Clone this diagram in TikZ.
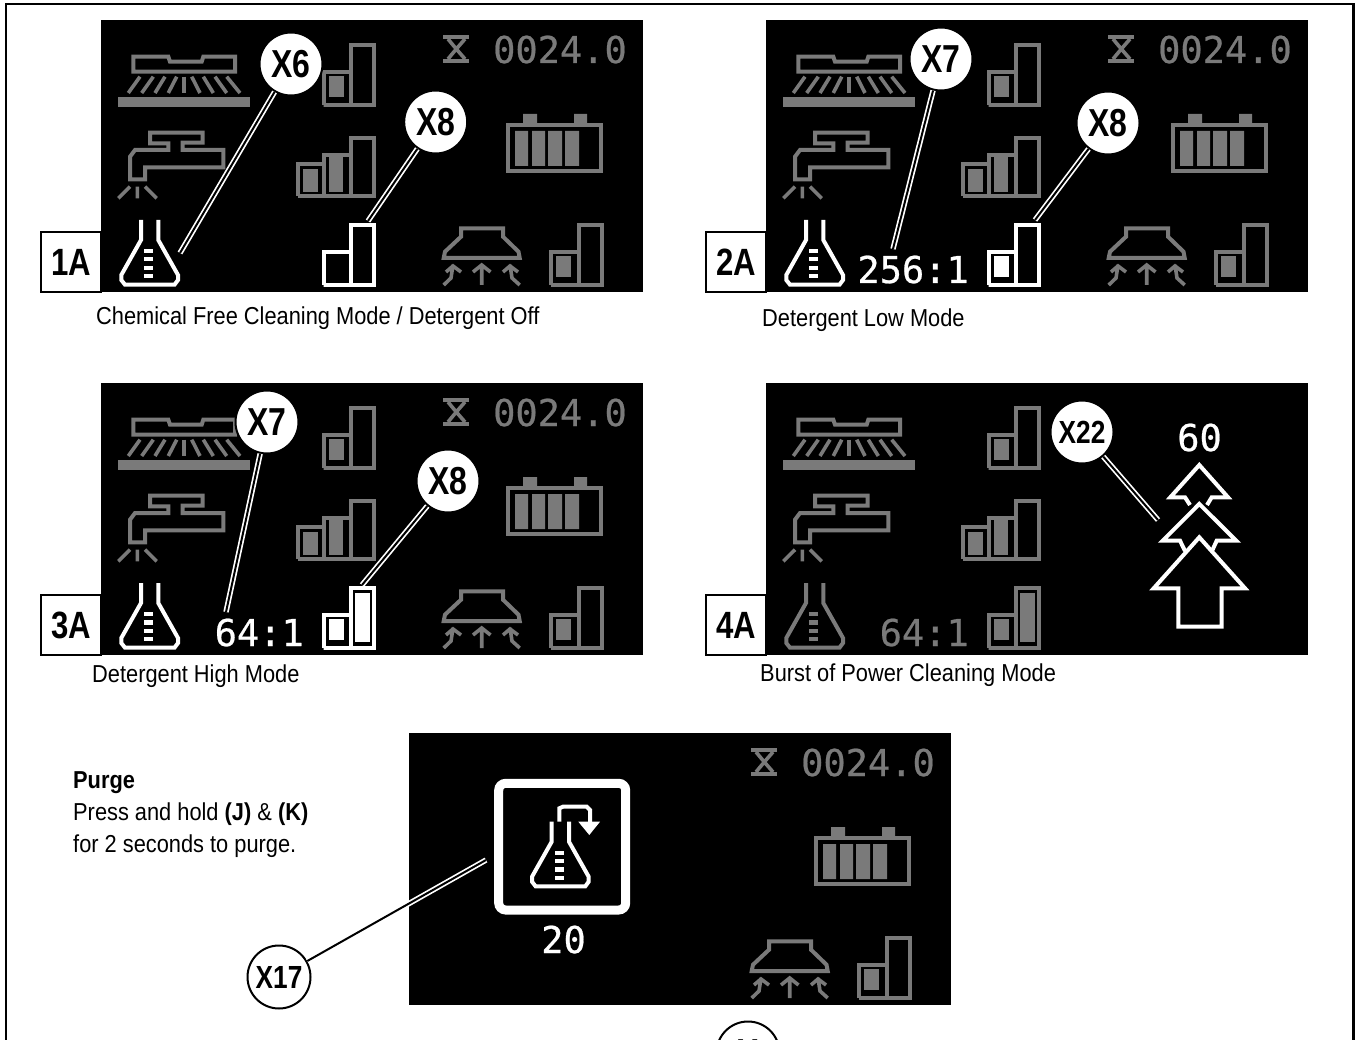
\documentclass[tikz,border=0pt]{standalone}
\usepackage{fontspec}
\setmainfont[FakeStretch=0.82]{Liberation Sans}
\newfontfamily\capfont[FakeStretch=0.89]{Liberation Sans}
\newfontfamily\lcdfont[FakeBold=0.6]{DejaVu Sans Mono}
\definecolor{lcdg}{HTML}{7A7A7A}
\tikzset{
  lcd/.style={draw=#1,line width=4,line join=miter,fill=none},
  lcdtxt/.style={font=\lcdfont\fontsize{37}{37}\selectfont,inner sep=0pt,anchor=base east,text=#1},
  callout/.style={circle,draw=black,line width=2,fill=white,inner sep=0pt,minimum size=63,font=\fontsize{39}{39}\selectfont\bfseries,text=black},
  callsmall/.style={callout,font=\fontsize{32}{32}\selectfont\bfseries},
  leader/.style={draw=black,line width=2,preaction={draw=white,line width=5.4}},
  tag/.style={rectangle,draw=black,line width=2,fill=white,inner sep=0pt,minimum size=60,font=\fontsize{38}{38}\selectfont\bfseries},
  caption/.style={inner sep=0pt,anchor=base west,font=\capfont\fontsize{24.5}{27}\selectfont,text=black}
}
\newcommand\lcdscreen[3]{\fill[black] (#1,#2) rectangle ++(542,272);\begin{scope}[shift={(#1,#2)}]#3\end{scope}}
\newcommand\twobars[3]{\begin{scope}[shift={(#1,#2)}]
  \draw[lcd=#3] (0,60) -- (0,27) -- (27.5,27) (27.5,60) -- (27.5,0) -- (50.5,0) -- (50.5,60) -- (0,60) -- cycle;
\end{scope}}
\newcommand\smallfill[3]{\fill[#3] (#1+5,#2+31) rectangle (#1+20,#2+52);}
\newcommand\tallfill[3]{\fill[#3] (#1+31.5,#2+5) rectangle (#1+46.5,#2+54);}
\newcommand\flask[3]{\begin{scope}[shift={(#1,#2)}]
  \draw[lcd=#3] (0,0) -- (0,20) -- (-19.7,55) -- (-19.7,60) -- (-16,64.7) -- (33.5,64.7) -- (37,60) -- (37,55) -- (17.3,20) -- (17.3,0);
  \foreach \yy in {31,39.4,47.7,56}{\fill[#3] (3,\yy-2.1) rectangle (12.3,\yy+2.1);}
\end{scope}}
\newcommand\brushtap{
  \draw[lcd=lcdg] (32.3,36.7) -- (67.3,36.7) -- (69,41.7) -- (100.7,41.7) -- (102.3,36.7) -- (134,36.7) -- (134,51.7) -- (32.3,51.7) -- cycle;
  \foreach \a/\b in {39/27.3,52.3/40.7,64/54,75.7/67.3,83/83,90.7/99,102.3/112.3,114/125.7,125.7/139}{\draw[lcdg,line width=3.6] (\a,56.7) -- (\b,73);}
  \fill[lcdg] (17,77) rectangle (149,87);
  \draw[lcd=lcdg] (67.3,130) -- (67.3,123.3) -- (49,123.3) -- (49,112.7) -- (101.7,112.7) -- (101.7,122.7) -- (81.7,122.7) -- (81.7,130) -- (122.3,130) -- (122.3,147.3) -- (44,147.3) -- (44,159.3) -- (29,159.3) -- (29,136.7) -- (34,130) -- cycle;
  \draw[lcdg,line width=3.6] (36.3,166.7) -- (36.3,178.3) (29,166.7) -- (17.3,178.3) (44,166.7) -- (55.7,178.3);
  \twobars{222.5}{25}{lcdg}\smallfill{222.5}{25}{lcdg}
  \begin{scope}[shift={(197,118)}]
    \draw[lcd=lcdg] (0,58) -- (0,26) -- (25.5,26) (25.5,58) -- (25.5,17) -- (53,17) (53,58) -- (53,0) -- (76,0) -- (76,58) -- (0,58) -- cycle;
    \fill[lcdg] (5,31) rectangle (20,54);
    \fill[lcdg] (31,18) rectangle (45,54);
  \end{scope}
}
\newcommand\hoodstatus[1]{
  \draw[lcd=lcdg] (342.3,17) -- (368.3,17) (342.3,41.3) -- (368.3,41.3);
  \draw[lcdg,line width=3.6] (347,19) -- (355.3,29) -- (364,19) (347,39) -- (355.3,29) -- (364,39);
  \node[lcdtxt=lcdg] (#1-time) at (526,43) {0024.0};
  \draw[lcd=lcdg] (407,105) rectangle (500,151);
  \fill[lcdg] (422,94) rectangle (436,103) (473,94) rectangle (486,103);
  \fill[lcdg] (414,111) rectangle (427,146) (431,111) rectangle (444,146) (447,111) rectangle (461,146) (464,111) rectangle (478,146);
  \draw[lcd=lcdg] (360,208.3) -- (402,208.3) -- (402,216.7) -- (417.5,231.7) -- (418.7,238) -- (342.7,238) -- (344,231.7) -- (360,216.7) -- cycle;
  \draw[lcdg,line width=3.6] (380.7,245) -- (380.7,265) (372,252) -- (380.7,245) -- (389.5,252);
  \draw[lcdg,line width=3.6] (342.7,265) -- (350,258) -- (352,245) (345,252) -- (352,246) -- (360,252);
  \draw[lcdg,line width=3.6] (418.7,265) -- (411,258) -- (409,245) (402,252) -- (409,246) -- (417,252);
  \twobars{450}{205}{lcdg}\smallfill{450}{205}{lcdg}
}
\begin{document}
\begin{tikzpicture}[x=1pt,y=-1pt]
\useasboundingbox (0,0) rectangle (1357,1040);
\clip (0,0) rectangle (1357,1040);
\fill[white] (0,0) rectangle (1357,1040);
\draw[black,line width=2.5] (6,1041) -- (6,4) -- (1353.7,4) -- (1353.7,1041);

% Panel 1A
\lcdscreen{101}{20}{\brushtap\hoodstatus{p1}
  \flask{40}{200}{white}\twobars{222.5}{205}{white}}
% Panel 2A
\lcdscreen{766}{20}{\brushtap\hoodstatus{p2}
  \flask{40}{200}{white}
  \node[lcdtxt=white] (p2-ratio) at (203,263) {256:1};
  \twobars{222.5}{205}{white}\smallfill{222.5}{205}{white}}
% Panel 3A
\lcdscreen{101}{383}{\brushtap\hoodstatus{p3}
  \flask{40}{200}{white}
  \node[lcdtxt=white] (p3-ratio) at (203,263) {64:1};
  \twobars{222.5}{205}{white}\smallfill{222.5}{205}{white}\tallfill{222.5}{205}{white}}
% Panel 4A
\lcdscreen{766}{383}{\brushtap
  \flask{40}{200}{lcdg}
  \node[lcdtxt=lcdg] (p4-ratio) at (203,263) {64:1};
  \twobars{222.5}{205}{lcdg}\smallfill{222.5}{205}{lcdg}\tallfill{222.5}{205}{lcdg}
  \node[lcdtxt=white] (p4-timer) at (456,68) {60};
  \draw[lcd=white] (433.3,154.3) -- (387.7,205.3) -- (412.3,205.3) -- (412.3,243.7) -- (455.7,243.7) -- (455.7,205.3) -- (479,205.3) -- cycle;
  \draw[lcd=white] (419,168) -- (414,157.7) -- (396.7,157.7) -- (433.3,121) -- (470.3,157.7) -- (450.7,157.7) -- (446,168);
  \draw[lcd=white] (424,122) -- (419,114.3) -- (404.3,114.3) -- (433.3,82) -- (462,114.3) -- (445.7,114.3) -- (441,122);
}
% Panel purge
\lcdscreen{409}{733}{\hoodstatus{p5}
  \draw[white,line width=9,rounded corners=7] (89.7,50.3) rectangle (216.7,177);
  \flask{142.7}{88.7}{white}
  \draw[lcd=white] (150.3,88.7) -- (150.3,75.3) -- (154,73.7) -- (177.7,73.7) -- (181,77) -- (181,90);
  \fill[white] (169.3,88.7) -- (191,88.7) -- (180.3,102) -- cycle;
  \node[lcdtxt=white] (p5-timer) at (177,220) {20};
}

% Tags
\node[tag] (t1) at (71,262) {1A};
\node[tag] (t2) at (736,262) {2A};
\node[tag] (t3) at (71,625) {3A};
\node[tag] (t4) at (736,625) {4A};

% Captions
\node[caption] (cap1) at (96,325) {Chemical Free Cleaning Mode / Detergent Off};
\node[caption] (cap2) at (762,327) {Detergent Low Mode};
\node[caption] (cap3) at (92,682) {Detergent High Mode};
\node[caption] (cap4) at (760,681) {Burst of Power Cleaning Mode};
\node[caption,font=\capfont\fontsize{24.5}{27}\selectfont\bfseries] (pu1) at (73,788) {Purge};
\node[caption] (pu2) at (73,820.5) {Press and hold \textbf{(J)} \& \textbf{(K)}};
\node[caption] (pu3) at (73,852) {for 2 seconds to purge.};

% Callouts and leaders
\node[callout] (c1) at (291,64) {X6};
\coordinate (e1) at (180,253);
\draw[leader] (c1) -- (e1);
\node[callout] (c2) at (435.7,122) {X8};
\coordinate (e2) at (368,221);
\draw[leader] (c2) -- (e2);
\node[callout] (c3) at (941,59) {X7};
\coordinate (e3) at (893,249);
\draw[leader] (c3) -- (e3);
\node[callout] (c4) at (1108,123) {X8};
\coordinate (e4) at (1035,220);
\draw[leader] (c4) -- (e4);
\node[callout] (c5) at (267,422) {X7};
\coordinate (e5) at (226,612);
\draw[leader] (c5) -- (e5);
\node[callout] (c6) at (448,481) {X8};
\coordinate (e6) at (362,585);
\draw[leader] (c6) -- (e6);
\node[callsmall] (c7) at (1082,432) {X22};
\coordinate (e7) at (1158,520);
\draw[leader] (c7) -- (e7);
\node[callsmall] (c8) at (279,977) {X17};
\coordinate (e8) at (486,860);
\draw[leader] (c8) -- (e8);
\node[callout] (c9) at (748,1053) {X};
\end{tikzpicture}
\end{document}
